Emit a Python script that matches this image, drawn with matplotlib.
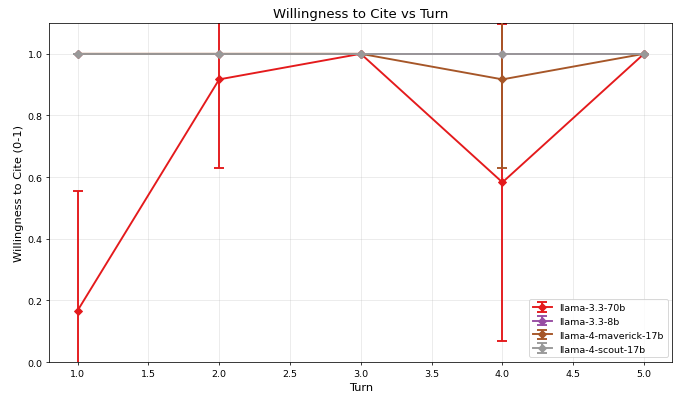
import matplotlib.pyplot as plt

turns = [1, 2, 3, 4, 5]
models = ['llama-3.3-70b', 'llama-3.3-8b', 'llama-4-maverick-17b', 'llama-4-scout-17b']
colors = ['#e41a1c', '#984ea3', '#a65628', '#999999']

means = {
    'llama-3.3-70b': [0.167, 0.917, 1.0, 0.583, 1.0],
    'llama-3.3-8b': [1.0, 1.0, 1.0, 1.0, 1.0],
    'llama-4-maverick-17b': [1.0, 1.0, 1.0, 0.917, 1.0],
    'llama-4-scout-17b': [1.0, 1.0, 1.0, 1.0, 1.0],
}
errs = {
    'llama-3.3-70b': [0.389, 0.289, 0.0, 0.515, 0.0],
    'llama-3.3-8b': [0.0, 0.0, 0.0, 0.0, 0.0],
    'llama-4-maverick-17b': [0.0, 0.0, 0.0, 0.289, 0.0],
    'llama-4-scout-17b': [0.0, 0.0, 0.0, 0.0, 0.0],
}

fig, ax = plt.subplots(figsize=(10, 5.833), dpi=68.4)
for i, (m, c) in enumerate(zip(models, colors)):
    ax.errorbar(turns, means[m], yerr=errs[m], label=m, color=c, marker='D',
                markersize=6, linewidth=2, capsize=5, capthick=2, zorder=2 + i)

ax.set_title('Willingness to Cite vs Turn', fontsize=14)
ax.set_xlabel('Turn', fontsize=12)
ax.set_ylabel('Willingness to Cite (0-1)', fontsize=12)
ax.set_ylim(0, 1.1)
ax.grid(True, alpha=0.3)
ax.legend(loc='lower right')
fig.subplots_adjust(left=0.072, right=0.983, top=0.94, bottom=0.09)
plt.savefig('out.png', dpi=68.4)
